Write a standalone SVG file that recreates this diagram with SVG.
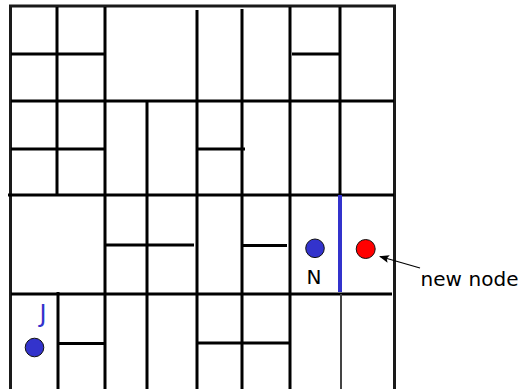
<svg xmlns="http://www.w3.org/2000/svg" width="523" height="389" viewBox="0 0 523 389">
<style>
.w{stroke:#000;stroke-width:3;fill:none}
.b{stroke:#1a1a1a;stroke-width:3;fill:none}
.lbl{font-family:"DejaVu Sans",sans-serif}
</style>
<defs>
<marker id="ah" markerWidth="10" markerHeight="8" refX="9" refY="4" orient="auto" markerUnits="userSpaceOnUse">
<path d="M0,0 L10,4 L0,8 L2,4 Z" fill="#000"/>
</marker>
</defs>
<rect width="523" height="389" fill="#fff"/>
<g id="grid">
<path class="b" d="M10.5,389 V6 H394.5 V389"/>
<path class="w" d="M11,54 H105 M292,54 H339 M11,101 H394 M11,149 H105 M197,149 H245 M8,195 H394 M105,245 H194 M243,245.5 H287 M11,294 H392 M58,343.5 H104 M197,343 H289"/>
<path class="w" d="M57,7 V195 M58,292 V389 M105,7 V389 M147,102 V389 M197,10 V389 M242,9 V389 M290,7 V389 M340,7 V195"/>
<line x1="340" y1="195" x2="340" y2="292" stroke="#3333cc" stroke-width="4"/>
<line x1="341" y1="294" x2="341" y2="389" stroke="#444" stroke-width="2"/>
</g>
<g id="node-J">
<circle cx="34.5" cy="347.5" r="9.3" fill="#3333cc" stroke="#111" stroke-width="1"/>
<text class="lbl" x="43" y="322" font-size="24" fill="#3333cc" text-anchor="middle">J</text>
</g>
<g id="node-N">
<circle cx="315" cy="248.3" r="9.3" fill="#3333cc" stroke="#111" stroke-width="1"/>
<text class="lbl" x="314" y="283.5" font-size="20" fill="#000" text-anchor="middle">N</text>
</g>
<g id="node-new">
<circle cx="365.7" cy="249" r="9.5" fill="#ff0000" stroke="#111" stroke-width="1"/>
<text class="lbl" x="420.5" y="285.5" font-size="20" fill="#000" textLength="98">new node</text>
</g>
<g id="connectors">
<line x1="420" y1="268" x2="380" y2="256.5" stroke="#000" stroke-width="1.3" marker-end="url(#ah)"/>
</g>
</svg>
